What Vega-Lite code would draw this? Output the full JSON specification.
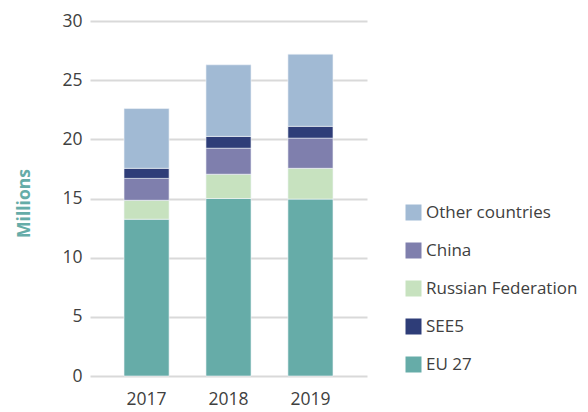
{
  "$schema": "https://vega.github.io/schema/vega-lite/v6.json",
  "autosize": {"type": "none"},
  "width": 277,
  "height": 355,
  "padding": {"left": 90, "top": 21, "right": 221, "bottom": 36},
  "background": "white",
  "config": {"view": {"stroke": null}},
  "data": {"values": [
    {"year": "2017", "region": "EU 27", "order": 1, "value": 13.25},
    {"year": "2017", "region": "Russian Federation", "order": 2, "value": 1.6},
    {"year": "2017", "region": "China", "order": 3, "value": 1.85},
    {"year": "2017", "region": "SEE5", "order": 4, "value": 0.85},
    {"year": "2017", "region": "Other countries", "order": 5, "value": 5.05},
    {"year": "2018", "region": "EU 27", "order": 1, "value": 15.0},
    {"year": "2018", "region": "Russian Federation", "order": 2, "value": 2.05},
    {"year": "2018", "region": "China", "order": 3, "value": 2.2},
    {"year": "2018", "region": "SEE5", "order": 4, "value": 1.0},
    {"year": "2018", "region": "Other countries", "order": 5, "value": 6.05},
    {"year": "2019", "region": "EU 27", "order": 1, "value": 14.95},
    {"year": "2019", "region": "Russian Federation", "order": 2, "value": 2.6},
    {"year": "2019", "region": "China", "order": 3, "value": 2.55},
    {"year": "2019", "region": "SEE5", "order": 4, "value": 1.0},
    {"year": "2019", "region": "Other countries", "order": 5, "value": 6.1}
  ]},
  "mark": {"type": "bar", "stroke": "#f4f7fa", "strokeWidth": 0.6},
  "encoding": {
    "x": {
      "field": "year", "type": "nominal",
      "scale": {"paddingInner": 0.45, "paddingOuter": 0.415},
      "axis": {"title": null, "labelAngle": 0, "domain": false, "ticks": false, "grid": false, "labelPadding": 14, "labelFontSize": 17.5, "labelColor": "#404040", "labelFont": "Open Sans"}
    },
    "y": {
      "field": "value", "type": "quantitative", "stack": "zero",
      "scale": {"domain": [0, 30]},
      "axis": {"title": "Millions", "values": [0, 5, 10, 15, 20, 25, 30], "domain": false, "ticks": false, "labelPadding": 8, "labelFontSize": 17.5, "labelColor": "#404040", "labelFont": "Open Sans", "gridColor": "#d9d9d9", "gridWidth": 2, "titleFontSize": 17.5, "titleFont": "Open Sans", "titleFontWeight": "bold", "titleColor": "#66aca8", "titlePadding": 28, "titleY": 182}
    },
    "color": {
      "field": "region", "type": "nominal",
      "scale": {"domain": ["Other countries", "China", "Russian Federation", "SEE5", "EU 27"], "range": ["#a1bad4", "#7f7fad", "#c7e2bf", "#2e3d78", "#66aca8"]},
      "legend": {"title": null, "orient": "none", "legendX": 315, "legendY": 183, "symbolType": "square", "symbolSize": 256, "symbolStrokeWidth": 0, "labelFontSize": 17, "labelFont": "Open Sans", "labelColor": "#404040", "rowPadding": 20, "labelOffset": 4}
    },
    "order": {"field": "order", "type": "quantitative"}
  }
}
